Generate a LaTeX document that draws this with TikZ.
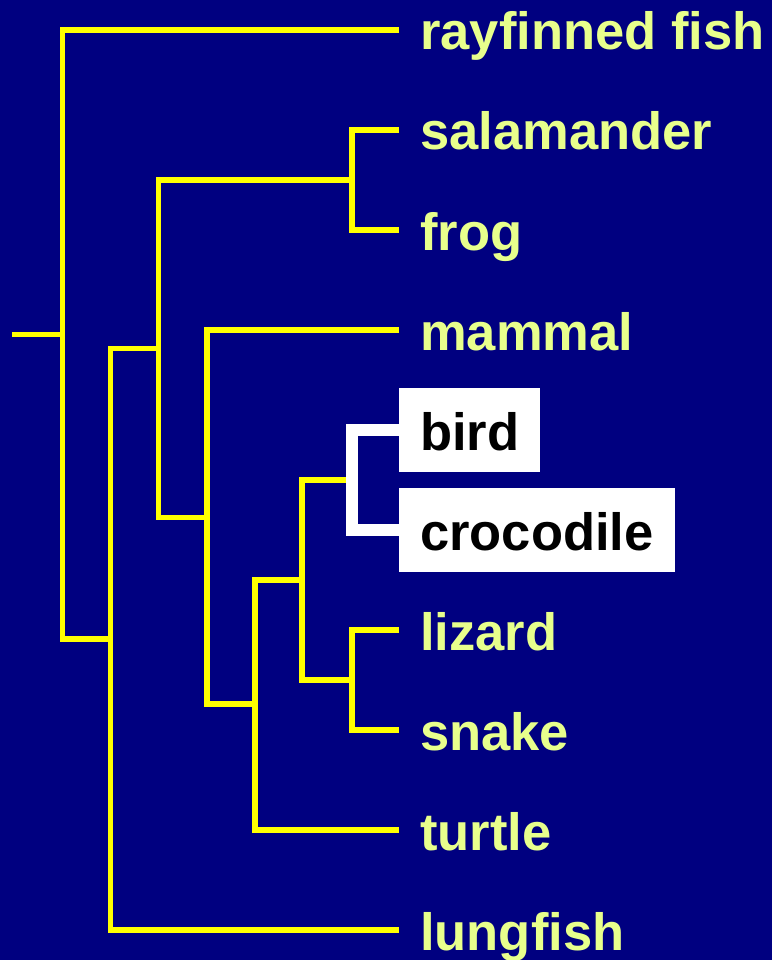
\documentclass[tikz,border=0pt]{standalone}
\usepackage{fontspec}
\newfontfamily\labfont{Liberation Sans}
\definecolor{bgnavy}{RGB}{0,0,128}
\definecolor{labc}{RGB}{232,255,140}
\definecolor{treey}{RGB}{255,255,0}
\begin{document}
\begin{tikzpicture}[x=1pt,y=-1pt,
  leaf/.style={anchor=west, inner xsep=21pt, inner ysep=20pt, text height=42pt, text depth=2pt,
    text=labc, font=\labfont\bfseries\fontsize{52.5}{60}\selectfont},
  hileaf/.style={leaf, fill=white, text=black},
  branch/.style={draw=treey, line width=5.5pt, line join=miter},
  hibranch/.style={draw=white, line width=12.5pt, line join=miter}]
\fill[bgnavy] (0,0) rectangle (772,960);
\useasboundingbox (0,0) rectangle (772,960);
% leaves
\node[leaf]   (ray)  at (399,30)  {rayfinned fish};
\node[leaf]   (sal)  at (399,130) {salamander};
\node[leaf]   (frog) at (399,230) {frog};
\node[leaf]   (mam)  at (399,330) {mammal};
\node[hileaf] (bird) at (399,430) {bird};
\node[hileaf] (croc) at (399,530) {crocodile};
\node[leaf]   (liz)  at (399,630) {lizard};
\node[leaf]   (snk)  at (399,730) {snake};
\node[leaf]   (tur)  at (399,830) {turtle};
\node[leaf]   (lung) at (399,930) {lungfish};
% internal nodes
\coordinate (stem) at (12,334.5);
\coordinate (root) at (62.5,334.5);
\coordinate (A) at (110.5,639);
\coordinate (B) at (158.5,348.5);
\coordinate (C) at (352,180);
\coordinate (D) at (207,517.5);
\coordinate (F) at (255,704);
\coordinate (G) at (302,580);
\coordinate (BC) at (352,480);
\coordinate (E) at (352,680);
% branches
\draw[branch] (stem) -- (root);
\draw[branch] (ray.west) -| (root) |- (A);
\draw[branch] (B) -| (A) |- (lung.west);
\draw[branch] (C) -| (B) |- (D);
\draw[branch] (sal.west) -| (C) |- (frog.west);
\draw[branch] (mam.west) -| (D) |- (F);
\draw[branch] (G) -| (F) |- (tur.west);
\draw[branch] (BC) -| (G) |- (E);
\draw[branch] (liz.west) -| (E) |- (snk.west);
\draw[hibranch] (bird.west) -| (BC) |- (croc.west);
\end{tikzpicture}
\end{document}
